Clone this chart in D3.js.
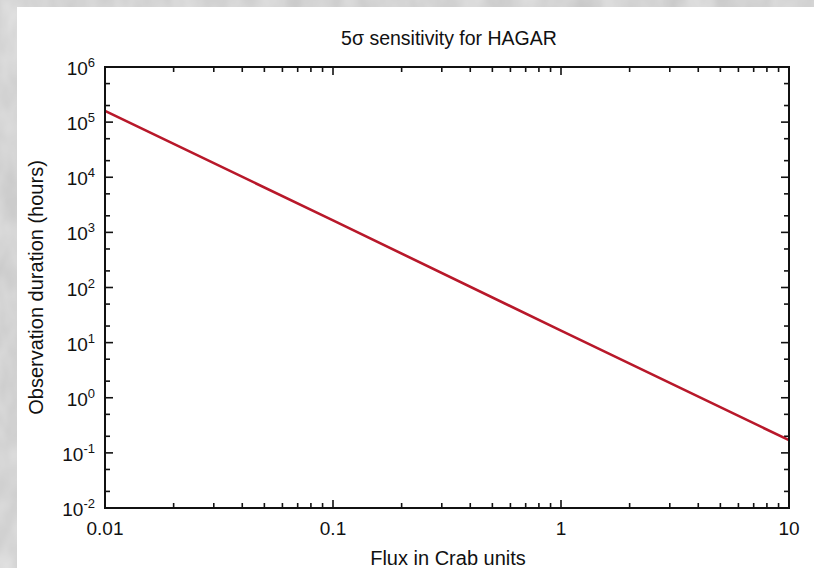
<!DOCTYPE html>
<html>
<head>
<meta charset="utf-8">
<script src="https://cdn.jsdelivr.net/npm/d3@7"></script>
<style>
  body { margin: 0; background: #d2d2d2; }
  svg { display: block; }
  text { font-family: "Liberation Sans", Arial, sans-serif; fill: #111; }
</style>
</head>
<body>
<svg id="chart" width="814" height="568"></svg>
<script>
// values
const flux = [0.01, 0.1, 1, 10]
const hours = [1.6e5, 1.65e3, 16.5, 0.17]
const xTicks = [0.01, 0.1, 1, 10]
const xTickLabels = ['0.01', '0.1', '1', '10']
const yExps = [-2, -1, 0, 1, 2, 3, 4, 5, 6]
const yMinorSteps = [2, 5]   // only 2 and 5 marked inside each decade

const svg = d3.select('#chart')
const W = 814, H = 568
const m = {left: 105, right: 789, top: 67, bottom: 508}

// textured grey backdrop
const defs = svg.append('defs')
const f = defs.append('filter').attr('id', 'tex').attr('x', 0).attr('y', 0).attr('width', '100%').attr('height', '100%')
f.append('feTurbulence').attr('type', 'fractalNoise').attr('baseFrequency', '0.035 0.02').attr('numOctaves', 3).attr('seed', 4)
f.append('feColorMatrix').attr('type', 'matrix')
  .attr('values', '0 0 0 0 0.86  0 0 0 0 0.86  0 0 0 0 0.86  0 0 0 -0.9 0.75')
svg.append('rect').attr('width', W).attr('height', H).attr('fill', '#c9c9c9')
svg.append('rect').attr('width', W).attr('height', H).attr('filter', 'url(#tex)')

// white sheet
svg.append('rect').attr('x', 17).attr('y', 7).attr('width', W - 17).attr('height', H - 7).attr('fill', '#fff')

const x = d3.scaleLog().domain([0.01, 10]).range([m.left, m.right])
const y = d3.scaleLog().domain([1e-2, 1e6]).range([m.bottom, m.top])

const g = svg.append('g')

// minor + major ticks, mirrored on all four sides
const xMinor = []
for (let d = -2; d < 1; d++) for (let k = 2; k <= 9; k++) xMinor.push(k * Math.pow(10, d))
const yMinor = []
for (let d = -2; d < 6; d++) yMinorSteps.forEach(k => yMinor.push(k * Math.pow(10, d)))

function xTickLines(vals, len) {
  vals.forEach(v => {
    g.append('line').attr('x1', x(v)).attr('x2', x(v)).attr('y1', m.bottom).attr('y2', m.bottom - len)
      .attr('stroke', '#111').attr('stroke-width', 1.6)
    g.append('line').attr('x1', x(v)).attr('x2', x(v)).attr('y1', m.top).attr('y2', m.top + len)
      .attr('stroke', '#111').attr('stroke-width', 1.6)
  })
}
function yTickLines(vals, len) {
  vals.forEach(v => {
    g.append('line').attr('y1', y(v)).attr('y2', y(v)).attr('x1', m.left).attr('x2', m.left + len)
      .attr('stroke', '#111').attr('stroke-width', 1.6)
    g.append('line').attr('y1', y(v)).attr('y2', y(v)).attr('x1', m.right).attr('x2', m.right - len)
      .attr('stroke', '#111').attr('stroke-width', 1.6)
  })
}
xTickLines(xMinor, 5)
xTickLines(xTicks, 8)
yTickLines(yMinor, 5)
yTickLines(yExps.map(e => Math.pow(10, e)), 8)

// the curve
const line = d3.line().x((d, i) => x(flux[i])).y((d, i) => y(hours[i]))
g.append('path').datum(hours).attr('d', line)
  .attr('fill', 'none').attr('stroke', '#b8182a').attr('stroke-width', 2.6)

// frame
g.append('rect').attr('x', m.left).attr('y', m.top)
  .attr('width', m.right - m.left).attr('height', m.bottom - m.top)
  .attr('fill', 'none').attr('stroke', '#111').attr('stroke-width', 2)

// x tick labels
xTicks.forEach((v, i) => {
  g.append('text').attr('x', x(v)).attr('y', 535).attr('text-anchor', 'middle')
    .attr('font-size', 19).text(xTickLabels[i])
})

// y tick labels 10^n
yExps.forEach(e => {
  const t = g.append('text').attr('x', 95).attr('y', y(Math.pow(10, e)) + 8).attr('text-anchor', 'end')
    .attr('font-size', 19)
  t.append('tspan').text('10')
  t.append('tspan').attr('dy', -8).attr('font-size', 13).text(e)
})

// titles
svg.append('text').attr('x', 449).attr('y', 45).attr('text-anchor', 'middle')
  .attr('font-size', 19.5).text('5σ sensitivity for HAGAR')
svg.append('text').attr('x', 448).attr('y', 565).attr('text-anchor', 'middle')
  .attr('font-size', 20).text('Flux in Crab units')
svg.append('text').attr('transform', 'translate(43,' + (m.top + m.bottom) / 2 + ') rotate(-90)')
  .attr('text-anchor', 'middle').attr('font-size', 20).text('Observation duration (hours)')
</script>
</body>
</html>
